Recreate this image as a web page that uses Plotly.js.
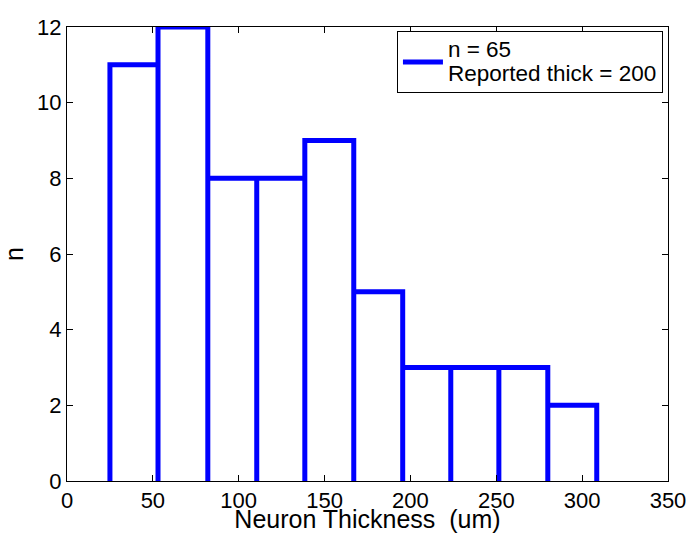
<!DOCTYPE html>
<html>
<head>
<meta charset="utf-8">
<script src="https://cdn.plot.ly/plotly-3.0.1.min.js"></script>
<style>html,body{margin:0;padding:0;background:#fff;}#chart{width:689px;height:533px;}</style>
</head>
<body>
<div id="chart"></div>
<script>
// Bin edges (um) and counts
const binEdges = [25, 53, 82, 110.5, 138.5, 167, 195.5, 223.5, 251.5, 280, 308.5];
const counts = [11, 12, 8, 8, 9, 5, 3, 3, 3, 2];
const legendLines = ["n = 65", "Reported thick = 200"];
const xTicks = [0, 50, 100, 150, 200, 250, 300, 350];
const yTicks = [0, 2, 4, 6, 8, 10, 12];

// Build outline path of the histogram bars
const xs = [], ys = [];
for (let i = 0; i < counts.length; i++) {
  xs.push(binEdges[i], binEdges[i], binEdges[i + 1], binEdges[i + 1]);
  ys.push(0, counts[i], counts[i], 0);
}

const font = {family: "Liberation Sans, Arial, Helvetica, sans-serif", color: "#000"};

const trace = {
  x: xs, y: ys, type: "scatter", mode: "lines",
  line: {color: "#0000ff", width: 5, shape: "linear"},
  name: legendLines.map(s => '<span style="font-size:22.5px">' + s + '</span>').join("<br>"),
  showlegend: true, cliponaxis: false
};

const axisCommon = {
  showgrid: false, zeroline: false, showline: true, linecolor: "#000", linewidth: 1,
  mirror: "ticks", ticks: "inside", ticklen: 6, tickwidth: 1, tickcolor: "#000",
  tickfont: Object.assign({size: 22}, font)
};

const layout = {
  width: 689, height: 533,
  margin: {l: 67, r: 21, t: 27, b: 52},
  paper_bgcolor: "#fff", plot_bgcolor: "#fff",
  font: font,
  xaxis: Object.assign({}, axisCommon, {
    range: [0, 350], tickvals: xTicks, ticktext: xTicks.map(String),
    title: {text: "Neuron Thickness&nbsp; (um)", font: Object.assign({size: 25}, font), standoff: 0}
  }),
  yaxis: Object.assign({}, axisCommon, {
    range: [0, 12], tickvals: yTicks, ticktext: yTicks.map(String),
    title: {text: "n", font: Object.assign({size: 25}, font), standoff: 11}
  }),
  legend: {
    x: 0.549, y: 0.991, xanchor: "left", yanchor: "top",
    bgcolor: "#fff", bordercolor: "#000", borderwidth: 1,
    font: Object.assign({size: 18}, font), itemwidth: 40, tracegroupgap: 0
  },
  showlegend: true
};

Plotly.newPlot("chart", [trace], layout, {displayModeBar: false, staticPlot: true});
</script>
</body>
</html>
